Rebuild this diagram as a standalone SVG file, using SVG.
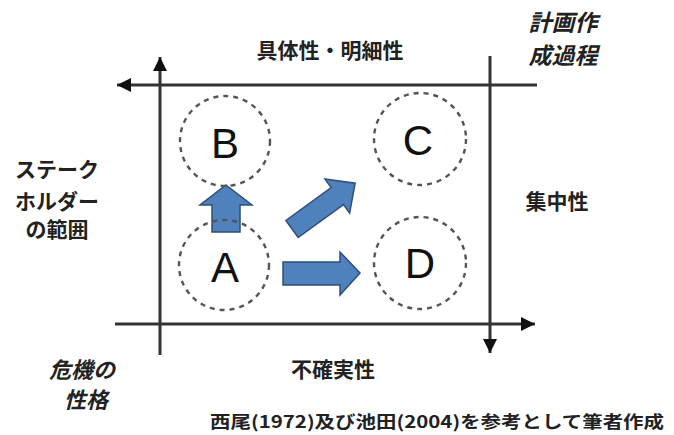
<svg xmlns="http://www.w3.org/2000/svg" width="674" height="435" viewBox="0 0 674 435">
<style>
.ax{stroke:#333;stroke-width:3;fill:none}
.dc{fill:none;stroke:#555;stroke-width:2.4;stroke-dasharray:5 5}
.ba{fill:#4F81BD;stroke:#2F4F78;stroke-width:1.5;stroke-linejoin:miter}
.jp{font-family:"Noto Sans CJK JP","Noto Sans",sans-serif;font-weight:bold;fill:#222;text-anchor:middle;dominant-baseline:central}
.it{font-style:italic}
.lt{font-family:"Liberation Sans",Arial,sans-serif;font-size:42px;fill:#111;text-anchor:middle}
</style>
<defs>
<marker id="ah" viewBox="0 0 10 10" refX="10" refY="5" markerWidth="15" markerHeight="14" markerUnits="userSpaceOnUse" orient="auto">
<path d="M0,0 L10,5 L0,10 z" fill="#111"/>
</marker>
</defs>
<g id="connectors">
<line class="ax" x1="537" y1="85" x2="117" y2="85" marker-end="url(#ah)"/>
<line class="ax" x1="160" y1="355" x2="160" y2="57" marker-end="url(#ah)"/>
<line class="ax" x1="490" y1="56" x2="490" y2="353" marker-end="url(#ah)"/>
<line class="ax" x1="115" y1="324" x2="535" y2="324" marker-end="url(#ah)"/>
<polygon class="ba" points="226,185 252,205 240,205 240,232 212,232 212,205 200,205"/>
<polygon class="ba" points="283,262 340,262 340,252 360,273 340,295 340,285 283,285"/>
<polygon class="ba" transform="translate(292,229) rotate(-36)" points="0,-10.5 56,-10.5 56,-21 78,0 56,21 56,10.5 0,10.5"/>
</g>
<g id="nodeB"><circle class="dc" cx="225" cy="141" r="45"/><text class="lt" x="225" y="158">B</text></g>
<g id="nodeC"><circle class="dc" cx="420" cy="139" r="46"/><text class="lt" x="418" y="155">C</text></g>
<g id="nodeA"><circle class="dc" cx="224" cy="265" r="45"/><text class="lt" x="225" y="282">A</text></g>
<g id="nodeD"><circle class="dc" cx="420" cy="263" r="46"/><text class="lt" x="420" y="278">D</text></g>
<g id="labels">
<text class="jp" x="330" y="49" font-size="21">具体性・明細性</text>
<text class="jp it" x="563" y="21" font-size="23">計画作</text>
<text class="jp it" x="563" y="54" font-size="23">成過程</text>
<text class="jp" x="57" y="168" font-size="21">ステーク</text>
<text class="jp" x="57" y="200" font-size="21">ホルダー</text>
<text class="jp" x="57" y="228" font-size="21">の範囲</text>
<text class="jp" x="557" y="200" font-size="21">集中性</text>
<text class="jp" x="333" y="368" font-size="21">不確実性</text>
<text class="jp it" x="82" y="368" font-size="22">危機の</text>
<text class="jp it" x="86" y="398" font-size="22">性格</text>
<text class="jp" x="437" y="420" font-size="17" textLength="454" lengthAdjust="spacingAndGlyphs">西尾(1972)及び池田(2004)を参考として筆者作成</text>
</g>
</svg>
